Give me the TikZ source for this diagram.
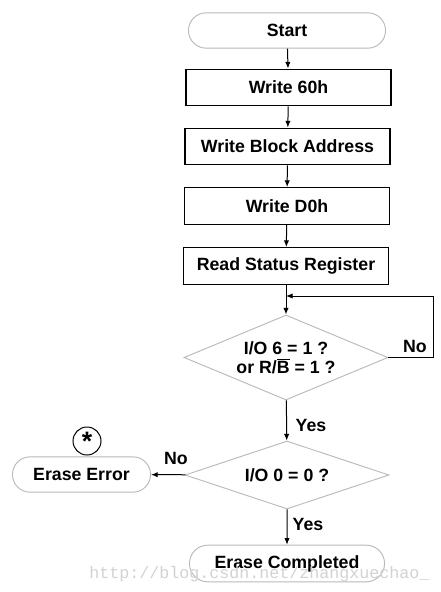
\documentclass[tikz,border=0pt]{standalone}
\usepackage{fontspec}
\setmainfont{Liberation Sans}
\newfontfamily\wmfont{Liberation Mono}
\usetikzlibrary{shapes.geometric,shapes.misc,arrows.meta}

\tikzset{
  flow/.style={-{Latex[length=5pt,width=4pt]}, line width=0.75pt},
  procbox/.style={draw, line width=0.9pt, minimum width=153.75pt, minimum height=27.5pt,
    font=\fontsize{13.3}{14.5}\selectfont\bfseries},
  termbox/.style={draw=gray!55, line width=0.7pt, rounded rectangle, minimum height=26.5pt,
    font=\fontsize{13.3}{14.5}\selectfont\bfseries},
  testbox/.style={draw=gray!55, line width=0.7pt, diamond, inner sep=0pt, aspect=2.6,
    font=\fontsize{13.3}{14.5}\selectfont\bfseries, align=center},
  lbl/.style={font=\fontsize{13.3}{14.5}\selectfont\bfseries}
}

\begin{document}
\begin{tikzpicture}[x=0.75pt, y=-0.75pt]
    \useasboundingbox (0,0) rectangle (441,592);
    % ---------------------------------------------
    \node[termbox, minimum width=154.5pt] (start) at (287,30.5) {Start};
    \node[procbox] (w60) at (288.5,87.5) {Write 60h};
    \node[procbox] (wba) at (287.5,146.5) {Write Block Address};
    \node[procbox] (wd0) at (287,206) {Write D0h};
    \node[procbox] (rsr) at (286,266) {Read Status Register};

    % status checks
    \node[testbox, minimum width=153pt, minimum height=63.75pt] (chk1) at (286,357.5)
      {I/O 6 = 1 ?\\ or R/$\overline{\mbox{B}}$ = 1 ?};
    \node[testbox, minimum width=153pt, minimum height=51pt] (chk2) at (287,475) {I/O 0 = 0 ?};

    % end states
    \node[termbox, minimum width=110.25pt] (err) at (81.5,474.5) {Erase Error};
    \node[termbox, minimum width=153pt, minimum height=27.5pt] (done) at (287,563.5) {Erase Completed};
    \node[draw, circle, line width=0.75pt, minimum size=21pt, inner sep=0pt,
      font=\fontsize{20}{20}\selectfont\bfseries] (star) at (87,441) {\raisebox{-5pt}{*}};

    % main flow
    \draw[flow] (start) -- (w60);
    \draw[flow] (w60) -- (wba);
    \draw[flow] (wba) -- (wd0);
    \draw[flow] (wd0) -- (rsr);
    \draw[flow] (rsr) -- (chk1);
    \draw[flow] (chk1) -- (chk2);
    \draw[flow] (chk2) -- (done);
    \draw[flow] (chk2) -- (err);

    % retry loop
    \coordinate (turn) at (433,296);
    \coordinate (back) at (286,296);
    \draw[flow] (chk1.east) -| (turn) -- (back);

    \node[lbl] (no1) at (415,346) {No};
    \node[lbl] (yes1) at (311,425) {Yes};
    \node[lbl] (no2) at (176,458) {No};
    \node[lbl] (yes2) at (308,524) {Yes};

    % watermark
    \node[anchor=base west, text=gray!35, font=\wmfont\fontsize{12.5}{13}\selectfont,
      inner sep=0pt] (wm) at (89,578) {http://blog.csdn.net/zhangxuechao\_};
  \end{tikzpicture}
\end{document}
